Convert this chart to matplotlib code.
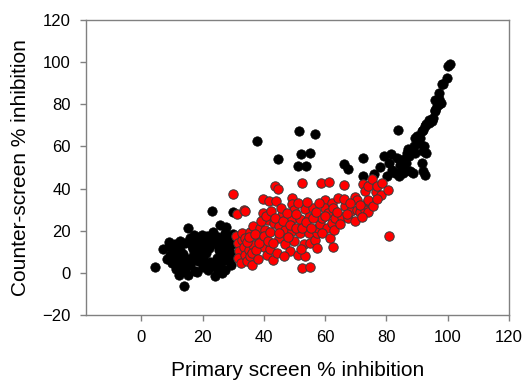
import numpy as np
import matplotlib.pyplot as plt

plt.rcParams['font.family'] = ['Liberation Sans', 'DejaVu Sans']

# compounds outside the selection window (black)
black_x = [4.6, 7.1, 8.4, 9.0, 9.5, 10.0, 10.5, 11.0, 11.2, 11.8, 12.2, 12.5, 12.8, 13.0, 13.5,
           13.8, 14.0, 14.2, 14.8, 15.1, 15.3, 15.8, 16.0, 16.5, 16.8, 17.2, 17.5, 17.8, 18.2,
           18.4, 18.8, 19.0, 19.5, 19.8, 20.0, 20.3, 20.8, 21.2, 21.5, 21.8, 22.0, 22.5, 22.8,
           23.1, 23.3, 23.8, 24.1, 24.3, 24.6, 25.0, 25.3, 25.8, 26.0, 26.3, 26.5, 26.8, 27.2,
           27.4, 27.6, 27.8, 28.0, 28.5, 28.8, 29.2, 29.5, 29.9, 30.0, 30.2, 12.0, 16.2, 21.0,
           24.8, 19.2, 10.8, 27.0, 22.3, 17.0, 14.5, 9.2, 25.6, 29.0, 18.0,
           37.7, 51.6, 56.6, 44.6, 52.2, 55.1, 51.3, 53.7, 66.0, 67.6,
           72.5, 72.5, 76.0, 78.0, 79.1, 80.2, 80.7, 81.6, 81.8, 82.9, 83.4, 83.9, 84.0, 84.5,
           85.1, 85.4, 85.9, 86.2, 86.4, 86.7, 86.9, 87.5, 87.8, 88.6, 88.9, 89.2, 89.4, 90.1,
           90.5, 91.0, 91.6, 91.6, 91.8, 92.0, 92.1, 92.3, 92.6, 92.6, 92.8, 92.8, 93.9, 93.9,
           94.8, 95.3, 95.9, 95.9, 95.9, 96.5, 97.0, 97.0, 97.2, 97.7, 98.1, 98.4, 99.7, 100.0,
           100.6]
black_y = [2.8, 11.5, 6.6, 12.6, 8.5, 4.8, 10.5, 13.5, 2.0, 7.5, -0.9, 11.0, 15.0, 4.0, 9.0,
           -6.3, 1.5, 14.0, 6.5, 21.1, -0.8, 16.5, 3.5, 12.8, 8.0, 18.0, 1.0, 14.5, 0.2,
           5.5, 10.0, 16.0, 12.5, 18.0, 3.0, 7.5, 14.0, 9.5, 17.5, 1.5, 12.0, 5.0, 15.5,
           29.5, 19.5, 3.5, -1.7, 13.5, 7.0, 17.0, 11.0, 22.5, 4.5, -0.2, 15.0, 9.0, 19.0,
           1.5, 21.6, 12.5, 6.0, 16.5, 10.0, 3.5, 13.5, 28.8, 18.5, 8.0, 6.0, 5.5, 4.0,
           2.0, 9.0, 7.5, 14.0, 17.0, 11.5, 3.0, 14.5, 10.5, 5.5, 12.5,
           62.5, 67.5, 66.1, 54.2, 56.6, 57.0, 50.9, 50.9, 51.7, 49.5,
           54.6, 45.9, 47.0, 50.2, 55.4, 45.9, 52.3, 56.2, 49.0, 47.4, 54.6, 68.0, 45.8, 51.4,
           49.0, 47.5, 53.8, 48.1, 52.2, 57.0, 58.6, 55.4, 48.2, 47.5, 60.1, 64.1, 57.0, 64.9,
           61.7, 64.1, 67.2, 52.2, 68.0, 48.2, 57.9, 60.2, 69.6, 46.2, 70.6, 57.0, 71.2, 72.7,
           72.0, 73.6, 76.7, 77.5, 82.2, 79.0, 80.0, 85.4, 82.3, 80.7, 89.4, 89.4, 92.5, 98.0,
           99.3]

# compounds inside the selection window (red)
red_x = [30.1, 31.2, 33.4, 31.0, 31.5, 32.0, 31.5, 32.5, 33.0, 33.5, 32.8, 33.8, 33.9, 33.9,
         34.4, 35.0, 35.5, 35.5, 36.1, 36.6, 36.6, 38.2, 38.8, 39.6, 39.6, 39.9, 40.4, 41.0,
         41.5, 41.8, 42.1, 43.1, 43.2, 43.5, 44.0, 44.3, 44.6, 44.8, 44.8, 45.8, 46.9, 47.0,
         48.6, 49.1, 49.1, 49.1, 49.1, 49.7, 50.0, 51.3, 51.8, 51.8, 52.4, 52.4, 53.0, 53.3,
         53.3, 54.6, 54.6, 55.1, 55.1, 56.2, 56.8, 57.3, 57.6, 58.3, 58.7, 58.9, 59.8, 60.0,
         60.5, 61.1, 61.3, 62.2, 62.2, 62.7, 62.7, 63.3, 64.3, 65.4, 66.3, 66.5, 67.6, 68.5,
         69.6, 69.8, 70.3, 70.3, 71.4, 72.5, 73.0, 73.0, 73.9, 74.1, 74.1, 74.1, 75.2, 76.5,
         76.8, 78.2, 78.5, 80.6, 81.0,
         34.5, 35.2, 36.0, 37.0, 37.5, 38.0, 38.5, 39.0, 40.0, 40.8, 41.2, 42.0, 42.5, 43.0,
         43.8, 45.0, 45.5, 46.2, 46.5, 47.5, 48.0, 48.5, 50.5, 50.5, 51.0, 52.0, 52.5, 53.8,
         54.0, 55.5, 56.0, 57.0, 57.5, 58.0, 59.0, 60.0, 61.5, 63.0, 64.0, 65.0, 66.0, 67.0,
         68.0, 71.5, 72.0, 75.5, 77.0]
red_y = [37.6, 28.0, 29.9, 17.5, 14.0, 10.5, 7.0, 4.5, 15.5, 12.5, 19.0, 8.5, 29.4, 16.5,
         5.4, 11.0, 19.6, 7.8, 3.8, 22.4, 13.3, 16.8, 21.2, 35.1, 28.3, 12.5, 20.4, 8.6,
         25.1, 34.2, 11.4, 6.2, 23.5, 41.1, 33.9, 9.4, 40.0, 22.4, 16.5, 27.5, 20.1, 13.6,
         10.2, 35.7, 32.6, 25.6, 19.9, 29.9, 14.9, 8.3, 25.6, 18.8, 42.7, 2.5, 13.6, 30.2,
         7.8, 26.7, 18.8, 14.1, 3.0, 30.7, 15.7, 18.8, 21.2, 23.1, 42.7, 25.9, 34.6, 30.7,
         21.2, 28.3, 43.2, 33.0, 23.5, 30.7, 12.2, 26.2, 35.3, 26.7, 41.6, 31.5, 25.9, 29.4,
         35.8, 24.6, 34.6, 29.9, 28.8, 42.0, 29.6, 38.7, 34.1, 28.8, 41.2, 34.7, 44.4, 38.4,
         41.2, 36.8, 42.7, 39.4, 17.4,
         14.5, 17.0, 9.5, 18.5, 11.0, 6.5, 14.0, 24.5, 17.5, 27.0, 15.0, 19.5, 29.5, 14.0,
         26.0, 19.0, 31.0, 24.5, 8.0, 28.5, 17.0, 22.5, 21.5, 28.0, 33.0, 11.5, 21.5, 24.0,
         33.5, 21.5, 26.0, 29.0, 12.0, 33.0, 19.0, 27.0, 16.5, 20.5, 29.0, 23.0, 35.0, 28.0,
         33.0, 32.0, 26.5, 31.5, 35.0]

fig = plt.figure(figsize=(5.25, 3.83), dpi=100)
ax = fig.add_axes([0.164, 0.1775, 0.8055, 0.7705])

ax.scatter(black_x, black_y, s=46, color='black', edgecolors='black', linewidths=0.5, zorder=2)
ax.scatter(red_x, red_y, s=46, color='#ff0000', edgecolors='#3a3a3a', linewidths=0.7, zorder=3)

ax.set_xlim(-18, 120)
ax.set_ylim(-20, 120)
ax.set_xticks(np.arange(0, 121, 20))
ax.set_yticks(np.arange(-20, 121, 20))

for side in ['left', 'right', 'top', 'bottom']:
    ax.spines[side].set_color('#808080')
    ax.spines[side].set_linewidth(1.0)
ax.tick_params(direction='out', length=4, width=1, color='#808080', labelsize=12,
               top=False, right=False, pad=7)

ax.set_xlabel('Primary screen % inhibition', fontsize=15, labelpad=11)
ax.set_ylabel('Counter-screen % inhibition', fontsize=15, labelpad=9)

plt.savefig('out.png', dpi=100)
